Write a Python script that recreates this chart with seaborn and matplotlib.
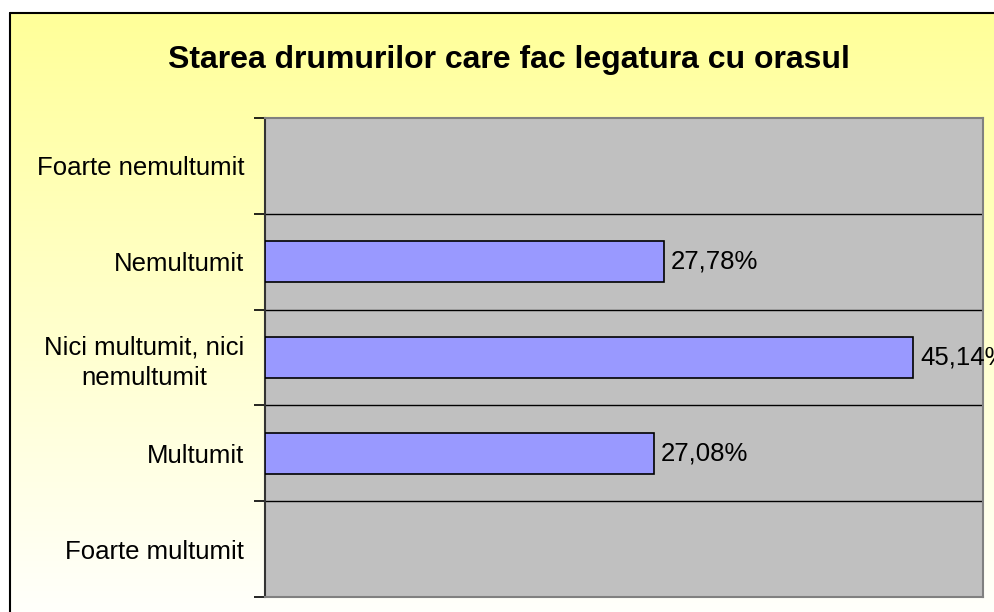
import numpy as np
import pandas as pd
import matplotlib
matplotlib.use('Agg')
import matplotlib.pyplot as plt
import seaborn as sns
from matplotlib.lines import Line2D

# data
categories = ['Foarte nemultumit', 'Nemultumit', 'Nici multumit, nici\nnemultumit',
              'Multumit', 'Foarte multumit']
values = [np.nan, 27.78, 45.14, 27.08, np.nan]
title = 'Starea drumurilor care fac legatura cu orasul'

df = pd.DataFrame({'cat': categories, 'val': values})

sns.set_style('white')
plt.rcParams['font.family'] = ['Liberation Sans', 'DejaVu Sans']
plt.rcParams['text.color'] = 'black'
plt.rcParams['ytick.color'] = 'black'
plt.rcParams['ytick.labelcolor'] = 'black'

fig = plt.figure(figsize=(9.94, 6.12), dpi=100)
fig.patch.set_facecolor('white')

# chart area background: yellow fading to white
bg = fig.add_axes([10/994, 0, 1 - 10/994, 1 - 13/612], zorder=-10)
grad = np.linspace(0, 1, 256)[:, None]
top = np.array([1.0, 1.0, 0x99/255])
bot = np.array([1.0, 1.0, 0.985])
img = top[None, None, :] * (1 - grad[..., None]) + bot[None, None, :] * grad[..., None]
bg.imshow(img, aspect='auto', extent=[0, 1, 0, 1])
bg.set_axis_off()
fig.add_artist(Line2D([10/994, 1], [1 - 13/612, 1 - 13/612], color='black', lw=1.5))
fig.add_artist(Line2D([10/994, 10/994], [0, 1 - 13/612], color='black', lw=1.5))

# plot area
ax = fig.add_axes([265/994, 1 - 597/612, (983 - 265)/994, (597 - 118)/612])
ax.set_facecolor('#C0C0C0')
sns.barplot(data=df, x='val', y='cat', order=categories, orient='h',
            color='#9999FF', edgecolor='black', linewidth=1.2,
            width=0.43, saturation=1, ax=ax, zorder=3)

ax.set_xlim(0, 50)
ax.set_ylim(4.5, -0.5)
ax.set_xlabel('')
ax.set_ylabel('')
ax.set_xticks([])

# category labels at centers, tick marks at boundaries
ax.set_yticks(range(len(categories)))
ax.set_yticklabels(categories, fontsize=18.5, multialignment='center',
                   linespacing=1.3, color='black')
ax.tick_params(axis='y', which='major', length=0, pad=15)
ax.set_yticks(np.arange(-0.5, len(categories), 1), minor=True)
ax.tick_params(axis='y', which='minor', length=8, width=1.2, color='black', left=True)
ax.grid(False)
for b in np.arange(0.5, len(categories) - 1, 1):
    ax.axhline(b, color='black', lw=1, zorder=1)

for s in ['top', 'right', 'bottom']:
    ax.spines[s].set_color('#808080')
    ax.spines[s].set_linewidth(1.5)
    ax.spines[s].set_visible(True)
ax.spines['left'].set_color('#333333')
ax.spines['left'].set_linewidth(1.5)

# value labels
for c in ax.containers:
    labs = [('%.2f%%' % w).replace('.', ',') if w > 0 else '' for w in c.datavalues]
    ax.bar_label(c, labels=labs, padding=5, fontsize=18.5, color='black', clip_on=False)

fig.text(0.512, 0.902, title, ha='center', va='center', fontsize=23,
         fontweight='bold', color='black')

fig.savefig('out.png', dpi=100)
